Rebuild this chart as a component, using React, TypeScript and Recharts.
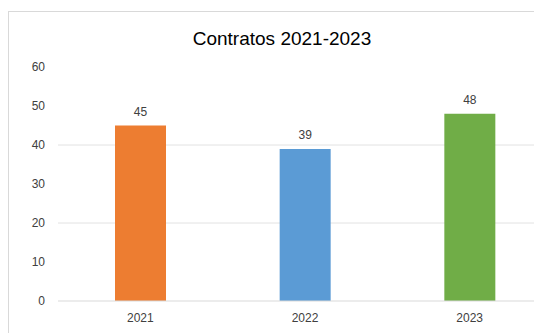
import { BarChart, Bar, XAxis, YAxis, CartesianGrid, LabelList, Cell } from "recharts";

const YEARS = ["2021", "2022", "2023"];
const CONTRATOS = [45, 39, 48];
const COLORS = ["#ED7D31", "#5B9BD5", "#70AD47"];
const Y_TICKS = [0, 10, 20, 30, 40, 50, 60];

const data = YEARS.map((year, i) => ({ year, count: CONTRATOS[i] }));

const FONT = "'Liberation Sans', Arial, sans-serif";

export default function App() {
  return (
    <div
      style={{
        position: "relative",
        width: 534,
        height: 322,
        marginTop: 3,
        borderLeft: "1px solid #d9d9d9",
        borderTop: "1px solid #d9d9d9",
        overflow: "hidden",
        fontFamily: FONT,
        background: "#fff",
      }}
    >
      {/* título */}
      <div
        style={{
          position: "absolute",
          left: 0,
          width: 546,
          top: 16,
          textAlign: "center",
          fontSize: 19,
          color: "#000",
        }}
      >
        Contratos 2021-2023
      </div>
      <BarChart
        width={560}
        height={321}
        data={data}
        margin={{ top: 55, right: 17, left: 0, bottom: 0 }}
      >
        <CartesianGrid vertical={false} stroke="#e2e2e2" horizontalValues={[20, 40]} />
        <XAxis
          dataKey="year"
          tickLine={false}
          axisLine={{ stroke: "#d9d9d9" }}
          tick={{ fontSize: 12, fill: "#404040", fontFamily: FONT }}
          height={32}
          tickMargin={6}
        />
        <YAxis
          domain={[0, 60]}
          ticks={Y_TICKS}
          tickLine={false}
          axisLine={false}
          width={49}
          tickMargin={7}
          tick={{ fontSize: 12, fill: "#404040", fontFamily: FONT }}
        />
        <Bar dataKey="count" barSize={51} isAnimationActive={false}>
          {data.map((d, i) => (
            <Cell key={d.year} fill={COLORS[i]} />
          ))}
          <LabelList
            dataKey="count"
            position="top"
            offset={10}
            style={{ fontSize: 12, fill: "#404040", fontFamily: FONT }}
          />
        </Bar>
      </BarChart>
    </div>
  );
}
